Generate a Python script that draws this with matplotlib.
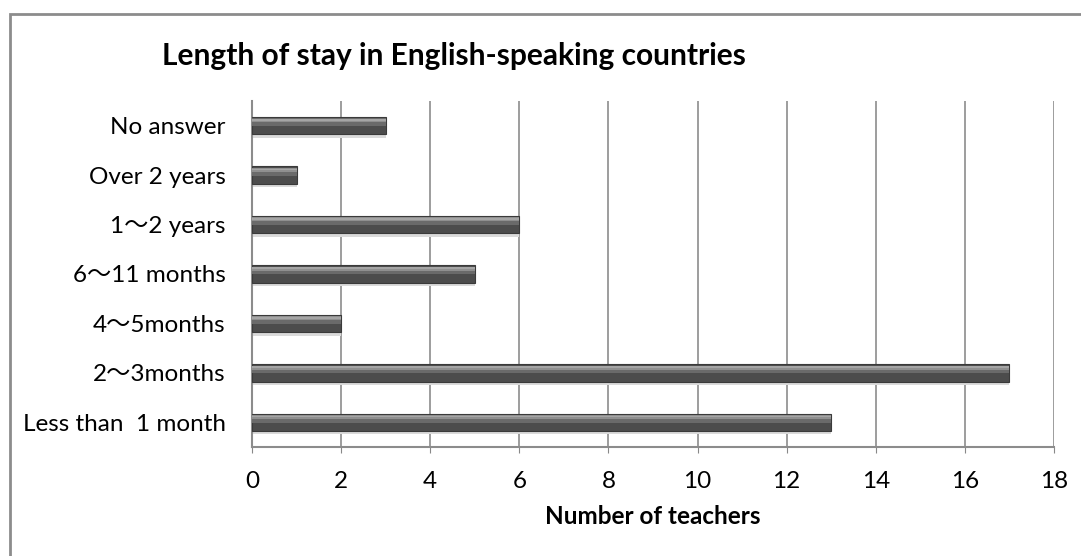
import matplotlib
matplotlib.use("Agg")
import matplotlib.pyplot as plt
from matplotlib.patches import Rectangle

plt.rcParams['font.family'] = ['Lato', 'Noto Sans CJK JP', 'DejaVu Sans']

# === DATA ===
categories = ["Less than  1 month", "2～3months", "4～5months", "6～11 months",
              "1～2 years", "Over 2 years", "No answer"]
teachers = [13, 17, 2, 5, 6, 1, 3]
xticks = list(range(0, 19, 2))

fig = plt.figure(figsize=(10.81, 5.56), dpi=100)
ax = fig.add_axes([252 / 1081, 1 - 447 / 556, (1054 - 252) / 1081, (447 - 101) / 556])

ypos = list(range(len(categories)))
h = 0.35

# soft shadow under each bar
ax.barh([y - 0.07 for y in ypos], teachers, height=h, color="#dadada", zorder=2)
# main bar
ax.barh(ypos, teachers, height=h, color="#4c4c4c", edgecolor="#3a3a3a", linewidth=0.8, zorder=3)
# shading on upper part
ax.barh([y + h * 0.2 for y in ypos], teachers, height=h * 0.45, color="#6a6a6a", zorder=4)
ax.barh([y + h * 0.3 for y in ypos], teachers, height=h * 0.22, color="#8f8f8f", zorder=4)
ax.barh([y + h * 0.33 for y in ypos], teachers, height=h * 0.1, color="#a5a5a5", zorder=4)

ax.set_xlim(0, 18)
ax.set_ylim(-0.5, len(categories) - 0.5)
ax.set_xticks(xticks)
ax.set_yticks(ypos)
ax.set_yticklabels(categories, fontsize=17.5)
ax.tick_params(axis="x", labelsize=17.5, length=4, color="#888888", pad=13)
ax.tick_params(axis="y", length=0, pad=19)

ax.grid(axis="x", color="#8c8c8c", linewidth=1.2, zorder=0)
ax.set_axisbelow(True)
for s in ["top", "right"]:
    ax.spines[s].set_visible(False)
for s in ["left", "bottom"]:
    ax.spines[s].set_color("#8c8c8c")
    ax.spines[s].set_linewidth(1.5)

ax.set_xlabel("Number of teachers", fontsize=17.5, fontweight="bold", labelpad=10)
fig.text(162 / 1081, 1 - 56 / 556, "Length of stay in English-speaking countries",
         fontsize=21.5, fontweight="bold", ha="left", va="center")

# outer chart frame
fig.patches.append(Rectangle((10 / 1081, -0.1), 1.2, 1 - 14 / 556 + 0.1,
                             transform=fig.transFigure, fill=False,
                             edgecolor="#8c8c8c", linewidth=2))

fig.savefig("out.png", dpi=100)
